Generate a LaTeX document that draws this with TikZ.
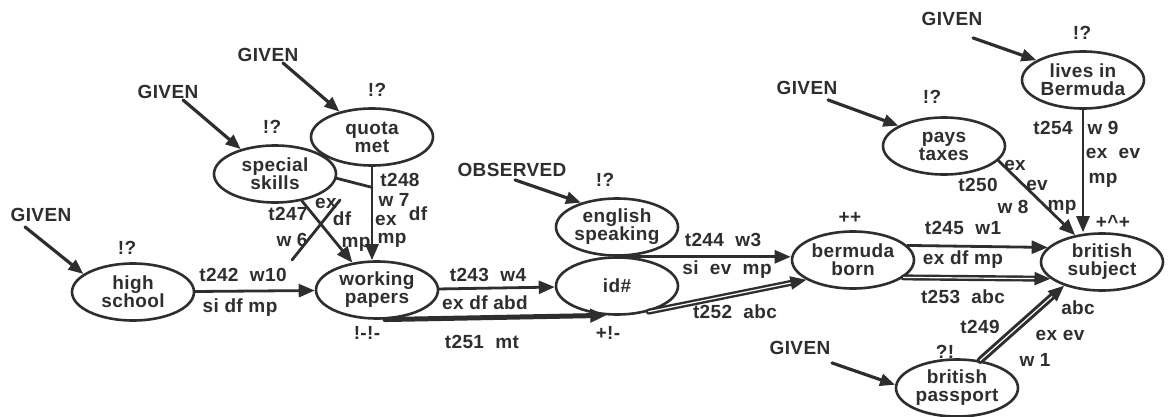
\documentclass[tikz,border=0pt]{standalone}
\usepackage{fontspec}
\setmainfont[LetterSpace=2]{Liberation Sans}
\usetikzlibrary{shapes.geometric,arrows.meta}
\definecolor{ink}{HTML}{2E2E2E}
\newcommand{\tgap}{\hspace{0.6em}}

\begin{document}
\begin{tikzpicture}[x=1pt,y=-1pt,line cap=round,line join=round,
  font=\fontsize{19}{18}\selectfont\bfseries,
  prop/.style={ellipse,draw=ink,line width=2.6pt,minimum width=122pt,minimum height=57pt,inner sep=-4pt,align=center,text=ink},
  lbl/.style={inner sep=0pt,text=ink},
  src/.style={inner sep=0pt,text=ink},
  given/.style={draw=ink,line width=3.2pt,-{Triangle[length=15pt,width=12pt]}},
  link/.style={draw=ink,line width=2.8pt,-{Triangle[length=16pt,width=13pt]}},
  dbl/.style={link,double=white,double distance=1.2pt,line width=2.4pt},
  plain/.style={draw=ink,line width=2.8pt}]
  \useasboundingbox (0,0) rectangle (1168,416);

  % ---- propositions ----
  \node[prop] (hs) at (133,292) {high\\school};
  \node[prop] (wp) at (377,290) {working\\papers};
  \node[prop] (ss) at (275,174) {special\\skills};
  \node[prop] (qm) at (372,137) {quota\\met};
  \node[prop] (es) at (617,227) {english\\speaking};
  \node[prop] (id) at (617,286) {id\#};
  \node[prop] (bb) at (853,260) {bermuda\\born};
  \node[prop] (bs) at (1102,262) {british\\subject};
  \node[prop] (bp) at (957,388) {british\\passport};
  \node[prop] (pt) at (944,146) {pays\\taxes};
  \node[prop] (lb) at (1083,80) {lives in\\Bermuda};

  % ---- status marks ----
  \node[lbl] (hsm) at (127,248) {!?};
  \node[lbl] (ssm) at (272,127) {!?};
  \node[lbl] (qmm) at (377,90) {!?};
  \node[lbl] (esm) at (605,180) {!?};
  \node[lbl] (bbm) at (850,218) {++};
  \node[lbl] (bsm) at (1113,222) {+\textasciicircum+};
  \node[lbl] (ptm) at (932,97) {!?};
  \node[lbl] (lbm) at (1082,33) {!?};
  \node[lbl] (bpm) at (945,352) {?!};
  \node[lbl] (wpm) at (367,333) {!-!-};
  \node[lbl] (idm) at (608,333) {+!-};

  % ---- sources ----
  \node[src] (g1) at (41,215) {GIVEN};
  \node[src] (g2) at (168,92) {GIVEN};
  \node[src] (g3) at (268,55) {GIVEN};
  \node[src] (obs) at (512,170) {OBSERVED};
  \node[src] (g5) at (807,88) {GIVEN};
  \node[src] (g6) at (952,19) {GIVEN};
  \node[src] (g7) at (800,348) {GIVEN};
  \draw[given] ([shift={(-16pt,-5pt)}]g1.south) -- (hs.160);
  \draw[given] ([shift={(15pt,-1pt)}]g2.south) -- (ss.144);
  \draw[given] ([shift={(15pt,-1pt)}]g3.south) -- (qm.142);
  \draw[given] ([shift={(3pt,-3pt)}]obs.south) -- (es.146);
  \draw[given] ([shift={(21pt,-5pt)}]g5.south) -- (pt.156);
  \draw[given] ([shift={(21pt,-12pt)}]g6.south) -- (lb.157);
  \draw[given] ([shift={(32pt,-8pt)}]g7.south) -- (bp.177);

  % ---- rules ----
  \draw[link] (hs) -- (wp);
  \draw[link] (wp) -- (id);
  \draw[link,line width=5pt] (wp.-75) -- (id.-110);
  \draw[link] (es.south) -- (es.south -| bb.west);
  \draw[dbl] (id.-39) -- (bb.203);
  \draw[link] (bb.15) -- (bs.165);
  \draw[dbl] (bb.-19) -- (bs.198);
  \draw[link] (pt.-15) -- (bs.135);
  \draw[link] (lb.south) -- (lb.south |- bs.north);
  \draw[dbl,line width=3pt] (bp.50) -- (bs.212);
  \draw[link] (qm.south) -- coordinate[pos=0.22] (j248) (qm.south |- wp.north);
  \draw[plain] (ss.-4) -- (j248);
  \draw[link] (ss.-45) -- (wp.132);
  \coordinate (x1) at (292,260);
  \coordinate (x2) at (340,200);
  \draw[plain] (x1) -- (x2);

  % ---- rule labels ----
  \node[lbl] (l242a) at (243,275) {t242\tgap w10};
  \node[lbl] (l242b) at (240,308) {si df mp};
  \node[lbl] (l243a) at (488,275) {t243\tgap w4};
  \node[lbl] (l243b) at (485,303) {ex df abd};
  \node[lbl] (l251) at (482,342) {t251\tgap mt};
  \node[lbl] (l244a) at (723,240) {t244\tgap w3};
  \node[lbl] (l244b) at (727,270) {si\ \ ev\ \ mp};
  \node[lbl] (l252) at (735,312) {t252\ \ abc};
  \node[lbl] (l245a) at (963,228) {t245\tgap w1};
  \node[lbl] (l245b) at (963,260) {ex df mp};
  \node[lbl] (l253) at (963,297) {t253\ \ abc};
  \node[lbl] (l250a) at (1015,165) {ex};
  \node[lbl] (l250b) at (1037,185) {ev};
  \node[lbl] (l250c) at (1062,207) {mp};
  \node[lbl] (l250d) at (978,185) {t250};
  \node[lbl] (l250e) at (1013,207) {w 8};
  \node[lbl] (l254a) at (1053,128) {t254};
  \node[lbl] (l254b) at (1103,128) {w 9};
  \node[lbl] (l254c) at (1113,153) {ex\ \ ev};
  \node[lbl] (l254d) at (1103,180) {mp};
  \node[lbl] (l249a) at (1078,308) {abc};
  \node[lbl] (l249b) at (1060,335) {ex ev};
  \node[lbl] (l249c) at (1035,360) {w 1};
  \node[lbl] (l249d) at (980,327) {t249};
  \node[lbl] (l248a) at (400,180) {t248};
  \node[lbl] (l248b) at (394,200) {w 7};
  \node[lbl] (l248c) at (386,220) {ex};
  \node[lbl] (l248d) at (418,214) {df};
  \node[lbl] (l248e) at (392,240) {mp};
  \node[lbl] (l247a) at (288,214) {t247};
  \node[lbl] (l247b) at (292,240) {w 6};
  \node[lbl] (l247c) at (326,203) {ex};
  \node[lbl] (l247d) at (342,219) {df};
  \node[lbl] (l247e) at (356,244) {mp};
\end{tikzpicture}
\end{document}
